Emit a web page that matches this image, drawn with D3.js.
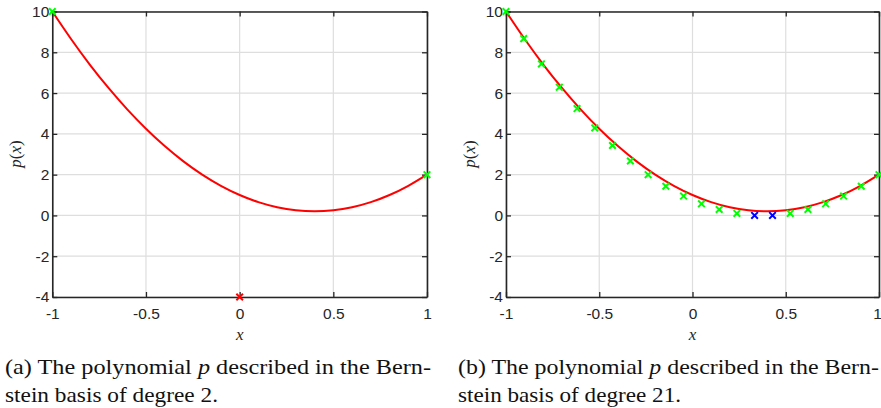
<!DOCTYPE html>
<html><head><meta charset="utf-8">
<script src="https://cdn.jsdelivr.net/npm/d3@7"></script>
<style>
body{margin:0;background:#fff}svg{display:block}
.tl{font-family:'Liberation Sans',Arial,Helvetica,sans-serif;font-size:15.5px;}
.sf{font-family:'Liberation Serif','Times New Roman',serif;}
</style>
</head><body>
<svg id="c" width="881" height="408"></svg>
<script>
// ---- data ----
const xTicks = [-1, -0.5, 0, 0.5, 1];
const yTicks = [-4, -2, 0, 2, 4, 6, 8, 10];
const xTickLabels = ["-1", "-0.5", "0", "0.5", "1"];
const yTickLabels = ["-4", "-2", "0", "2", "4", "6", "8", "10"];
// polynomial curve, read at steps of 0.1
const curveX = [-1,-0.9,-0.8,-0.7,-0.6,-0.5,-0.4,-0.3,-0.2,-0.1,0,0.1,0.2,0.3,0.4,0.5,0.6,0.7,0.8,0.9,1];
const curveY = [10,8.65,7.4,6.25,5.2,4.25,3.4,2.65,2.0,1.45,1,0.65,0.4,0.25,0.2,0.25,0.4,0.65,1.0,1.45,2];
// degree 2 coefficients
const coefX2 = [-1, 0, 1];
const coefY2 = [10, -4, 2];
const coefC2 = ["green", "red", "green"];
// degree 21 coefficients
const coefX21 = [-1,-0.905,-0.810,-0.714,-0.619,-0.524,-0.429,-0.333,-0.238,-0.143,-0.048,0.048,0.143,0.238,0.333,0.429,0.524,0.619,0.714,0.810,0.905,1];
const coefY21 = [10,8.67,7.43,6.29,5.24,4.29,3.43,2.67,2.00,1.43,0.95,0.57,0.29,0.10,0,0,0.10,0.29,0.57,0.95,1.43,2];
const coefC21 = ["green","green","green","green","green","green","green","green","green","green","green","green","green","green","blue","blue","green","green","green","green","green","green"];
const captionsA = ["(a) The polynomial ", "p", " described in the Bern-", "stein basis of degree 2."];
const captionsB = ["(b) The polynomial ", "p", " described in the Bern-", "stein basis of degree 21."];

const colorMap = {green: "#00ff00", red: "#ff0000", blue: "#0000ff"};
const svg = d3.select("#c");
const dark = "#262626";

function panel(x0, x1, cx, cy, cc, caption, capX, capW, capW2, labelX) {
  const y0 = 11.5, y1 = 297;
  const x = d3.scaleLinear().domain([-1, 1]).range([x0, x1]);
  const y = d3.scaleLinear().domain([-4, 10]).range([y1, y0]);
  const g = svg.append("g");
  // grid
  g.selectAll(".gx").data(xTicks).enter().append("line")
    .attr("x1", d => x(d)).attr("x2", d => x(d)).attr("y1", y0).attr("y2", y1)
    .attr("stroke", "#dedede").attr("stroke-width", 1.2);
  g.selectAll(".gy").data(yTicks).enter().append("line")
    .attr("y1", d => y(d)).attr("y2", d => y(d)).attr("x1", x0).attr("x2", x1)
    .attr("stroke", "#dedede").attr("stroke-width", 1.2);
  // axes (box with inward ticks)
  const fmtX = d => xTickLabels[xTicks.indexOf(d)];
  const fmtY = d => yTickLabels[yTicks.indexOf(d)];
  const ax = [
    [d3.axisBottom(x).tickValues(xTicks).tickFormat(fmtX).tickPadding(11), `translate(0,${y1})`],
    [d3.axisTop(x).tickValues(xTicks).tickFormat(""), `translate(0,${y0})`],
    [d3.axisLeft(y).tickValues(yTicks).tickFormat(fmtY).tickPadding(3), `translate(${x0},0)`],
    [d3.axisRight(y).tickValues(yTicks).tickFormat(""), `translate(${x1},0)`]
  ];
  ax.forEach(([a, t]) => {
    const s = g.append("g").attr("transform", t).call(a.tickSizeInner(-5).tickSizeOuter(0));
    s.attr("font-family", null).attr("font-size", null);
    s.select(".domain").attr("stroke", dark).attr("stroke-width", 1.6);
    s.selectAll(".tick line").attr("stroke", dark).attr("stroke-width", 1.3);
    s.selectAll(".tick text").attr("fill", dark).attr("class", "tl");
  });
  // keep the last x label inside the window
  g.selectAll("text.tl").filter(d => d === 1 && x(1) > 870).attr("dx", "-2px");
  // curve
  const pts = curveX.map((d, i) => [d, curveY[i]]);
  g.append("path").datum(pts)
    .attr("d", d3.line().x(d => x(d[0])).y(d => y(d[1])).curve(d3.curveNatural))
    .attr("fill", "none").attr("stroke", "#ff0000").attr("stroke-width", 2);
  // markers
  const m = 3.3;
  g.selectAll(".mk").data(cx.map((d, i) => ({x: d, y: cy[i], c: cc[i]}))).enter().append("path")
    .attr("d", d => `M${x(d.x)-m},${y(d.y)-m}L${x(d.x)+m},${y(d.y)+m}M${x(d.x)-m},${y(d.y)+m}L${x(d.x)+m},${y(d.y)-m}`)
    .attr("stroke", d => colorMap[d.c]).attr("stroke-width", 2).attr("fill", "none");
  // axis labels
  g.append("text").attr("class", "sf").attr("x", x(0)).attr("y", 340)
    .attr("text-anchor", "middle").attr("fill", dark)
    .style("font-size", "17px").style("font-style", "italic").text("x");
  const ly = g.append("text").attr("class", "sf").attr("transform", `translate(${labelX},154) rotate(-90)`)
    .attr("text-anchor", "middle").attr("fill", dark).style("font-size", "17px");
  ly.append("tspan").style("font-style", "italic").text("p");
  ly.append("tspan").text("(");
  ly.append("tspan").style("font-style", "italic").text("x");
  ly.append("tspan").text(")");
  // caption
  const c1 = svg.append("text").attr("class", "sf").attr("x", capX).attr("y", 374).attr("fill", "#111")
    .style("font-size", "21px")
    .attr("textLength", capW).attr("lengthAdjust", "spacingAndGlyphs");
  c1.append("tspan").text(caption[0]);
  c1.append("tspan").style("font-style", "italic").text(caption[1]);
  c1.append("tspan").text(caption[2]);
  svg.append("text").attr("class", "sf").attr("x", capX).attr("y", 402).attr("fill", "#111")
    .style("font-size", "21px").attr("textLength", capW2).attr("lengthAdjust", "spacingAndGlyphs")
    .text(caption[3]);
}

panel(52.3, 427, coefX2, coefY2, coefC2, captionsA, 5, 426, 213, 21);
panel(506, 879, coefX21, coefY21, coefC21, captionsB, 458, 421, 223, 475);
</script>
</body></html>
